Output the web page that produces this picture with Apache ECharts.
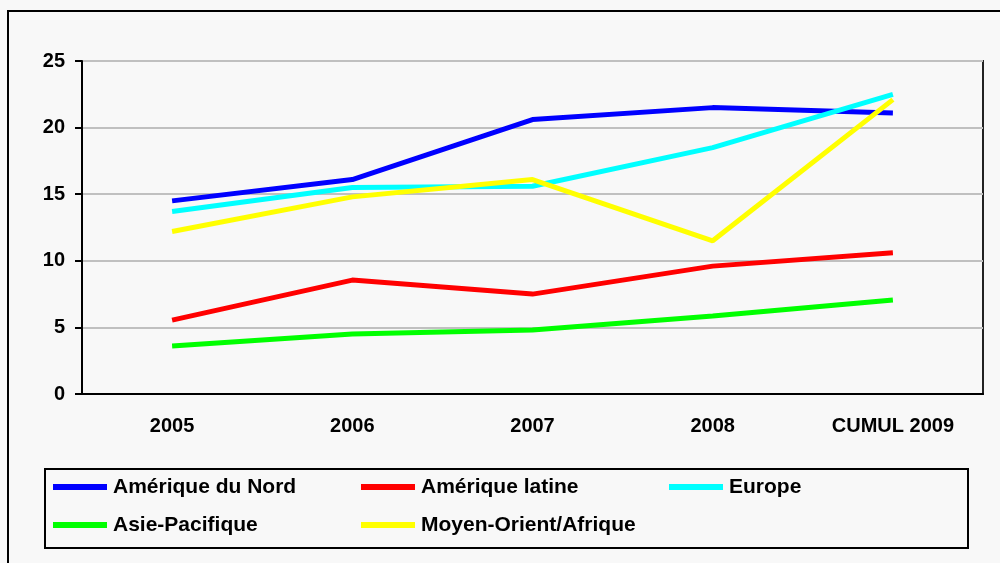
<!DOCTYPE html>
<html>
<head>
<meta charset="utf-8">
<script src="https://cdn.jsdelivr.net/npm/echarts@6/dist/echarts.min.js"></script>
<style>
  html, body { margin: 0; padding: 0; background: #f8f8f8; }
  #chart { width: 1000px; height: 563px; }
</style>
</head>
<body>
<div id="chart"></div>
<script>
// categories
const years = ['2005', '2006', '2007', '2008', 'CUMUL 2009'];

// series values
const ameriqueNord = [14.5, 16.1, 20.6, 21.5, 21.1];
const ameriqueLatine = [5.55, 8.55, 7.5, 9.6, 10.6];
const europe = [13.7, 15.5, 15.6, 18.5, 22.5];
const asiePacifique = [3.6, 4.5, 4.8, 5.85, 7.05];
const moyenOrient = [12.2, 14.8, 16.1, 11.5, 22.1];

const names = ['Amérique du Nord', 'Amérique latine', 'Europe', 'Asie-Pacifique', 'Moyen-Orient/Afrique'];
const colors = ['#0000ff', '#ff0000', '#00ffff', '#00ff00', '#ffff00'];
const values = [ameriqueNord, ameriqueLatine, europe, asiePacifique, moyenOrient];

const fontFam = '"Liberation Sans", Arial, sans-serif';

const chart = echarts.init(document.getElementById('chart'));

const option = {
  backgroundColor: '#f8f8f8',
  animation: false,
  textStyle: { fontFamily: fontFam },
  grid: {
    left: 82, right: 17, top: 61, bottom: 169,
    show: true,
    borderColor: '#222',
    borderWidth: 2
  },
  xAxis: {
    type: 'category',
    data: years,
    boundaryGap: true,
    axisLine: { lineStyle: { color: '#000', width: 2 } },
    axisTick: { show: false },
    axisLabel: { color: '#000', fontSize: 20, fontWeight: 'bold', margin: 22, fontFamily: fontFam }
  },
  yAxis: {
    type: 'value',
    min: 0, max: 25, interval: 5,
    axisLine: { show: true, lineStyle: { color: '#000', width: 2 } },
    axisTick: { show: true, length: 7, lineStyle: { color: '#000', width: 2 } },
    splitLine: { lineStyle: { color: '#c0c0c0', width: 2 } },
    axisLabel: { color: '#000', fontSize: 20, fontWeight: 'bold', margin: 17, fontFamily: fontFam }
  },
  legend: {
    left: 53, top: 468,
    width: 940,
    padding: 0,
    itemWidth: 54, itemHeight: 6,
    itemGap: 0,
    icon: 'rect',
    data: names,
    textStyle: {
      color: '#000', fontSize: 21, fontWeight: 'bold', fontFamily: fontFam,
      width: 248, lineHeight: 38, padding: [0, 0, 0, 1]
    }
  },
  graphic: [
    {
      type: 'polyline',
      shape: { points: [[8, 600], [8, 11], [1010, 11]] },
      style: { stroke: '#000', lineWidth: 2, fill: null },
      silent: true
    },
    {
      type: 'rect',
      shape: { x: 45, y: 469, width: 923, height: 79 },
      style: { stroke: '#000', lineWidth: 2, fill: null },
      silent: true
    }
  ],
  series: names.map((n, i) => ({
    name: n,
    type: 'line',
    data: values[i],
    showSymbol: false,
    symbol: 'none',
    lineStyle: { color: colors[i], width: 5 },
    itemStyle: { color: colors[i] }
  }))
};

chart.setOption(option);
</script>
</body>
</html>
